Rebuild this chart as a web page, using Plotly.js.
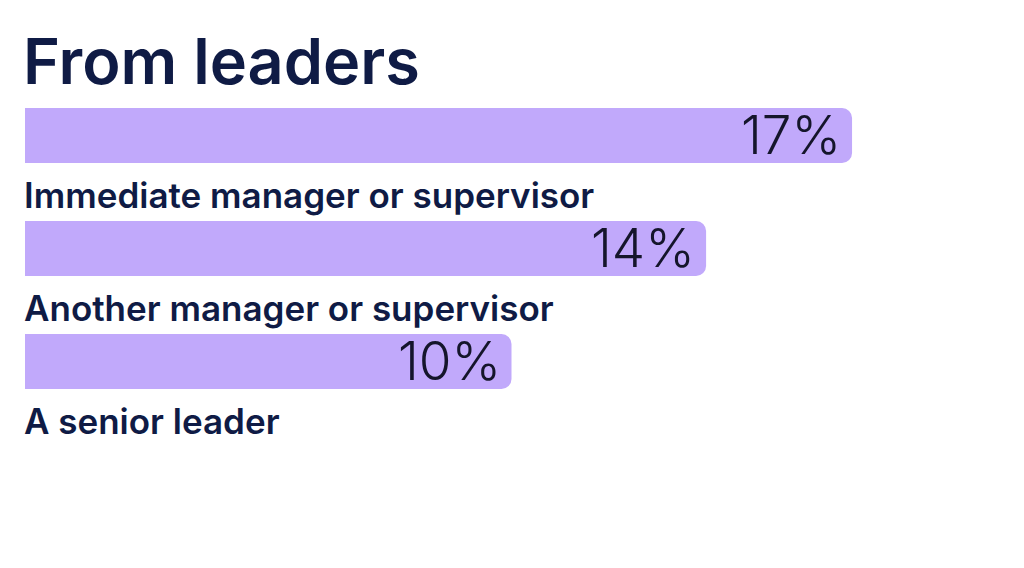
<!DOCTYPE html>
<html>
<head>
<meta charset="utf-8">
<script src="https://cdn.plot.ly/plotly-3.0.1.min.js"></script>
<style>
  html, body { margin: 0; padding: 0; background: #ffffff; }
  #chart { width: 1024px; height: 568px; }
</style>
</head>
<body>
<div id="chart"></div>
<script>
// данные
var categories = ['Immediate manager or supervisor', 'Another manager or supervisor', 'A senior leader'];
var values = [17, 14, 10];
var valueLabels = ['17%', '14%', '10%'];

var navy = '#0f1b45';
var lavender = '#c1a9fb';

var pos = [];
for (var i = 0; i < categories.length; i++) pos.push(i);

var bars = {
  type: 'bar',
  orientation: 'h',
  x: values,
  y: pos,
  width: 0.487,
  marker: { color: lavender, cornerradius: 10 },
  hoverinfo: 'none'
};

var annotations = [];
for (var i = 0; i < categories.length; i++) {
  // подпись категории под полосой
  annotations.push({
    x: 0, y: pos[i], xref: 'x', yref: 'y',
    text: categories[i], showarrow: false,
    xanchor: 'left', yanchor: 'middle', xshift: -3, yshift: -59,
    font: { family: 'Inter, "Noto Sans", sans-serif', size: 35, weight: 600, color: navy }
  });
  // значение внутри полосы
  annotations.push({
    x: values[i], y: pos[i], xref: 'x', yref: 'y',
    text: valueLabels[i], showarrow: false,
    xanchor: 'right', yanchor: 'middle', xshift: -9, yshift: 1,
    font: { family: 'Inter, "Noto Sans", sans-serif', size: 53, weight: 300, color: '#15152b' }
  });
}

var layout = {
  width: 1024, height: 568,
  margin: { l: 25, r: 0, t: 0, b: 0 },
  paper_bgcolor: '#ffffff', plot_bgcolor: '#ffffff',
  showlegend: false,
  title: {
    text: 'From leaders',
    x: 23 / 1024, xref: 'container', xanchor: 'left',
    y: 1 - 62 / 568, yref: 'container', yanchor: 'middle',
    font: { family: 'Inter, "Noto Sans", sans-serif', size: 63, weight: 600, color: navy }
  },
  xaxis: { range: [0, 999 / 48.65], visible: false, fixedrange: true },
  yaxis: { range: [3.827, -1.199], visible: false, fixedrange: true },
  annotations: annotations
};

Plotly.newPlot('chart', [bars], layout, { displayModeBar: false, staticPlot: true });
</script>
</body>
</html>
